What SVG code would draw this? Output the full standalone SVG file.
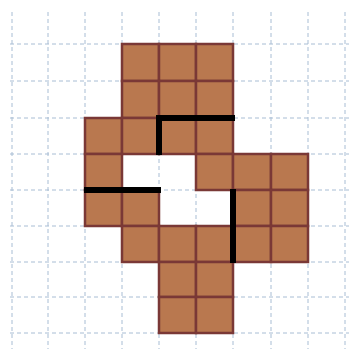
<svg xmlns="http://www.w3.org/2000/svg" width="349" height="349" viewBox="0 0 349 349">
<style>
.g{stroke:#a8bdd4;stroke-width:1;stroke-dasharray:4 3;fill:none}
.c{fill:#b9784f;stroke:#7a3836;stroke-width:2.5}
.k{stroke:#000;stroke-width:6;fill:none;stroke-linecap:square}
</style>
<rect width="349" height="349" fill="#fff"/>
<g id="grid">
<path class="g" d="M12 12V349M48 12V349M85 12V349M122 12V349M159 12V349M196 12V349M233 12V349M271 12V349M308 12V349M345 12V349"/>
<path class="g" d="M10 44H349M10 81H349M10 118H349M10 154H349M10 190H349M10 226H349M10 262H349M10 297H349M10 333H349"/>
</g>
<g id="cells">
<rect class="c" x="122" y="44" width="37" height="37"/>
<rect class="c" x="159" y="44" width="37" height="37"/>
<rect class="c" x="196" y="44" width="37" height="37"/>
<rect class="c" x="122" y="81" width="37" height="37"/>
<rect class="c" x="159" y="81" width="37" height="37"/>
<rect class="c" x="196" y="81" width="37" height="37"/>
<rect class="c" x="85" y="118" width="37" height="36"/>
<rect class="c" x="122" y="118" width="37" height="36"/>
<rect class="c" x="159" y="118" width="37" height="36"/>
<rect class="c" x="196" y="118" width="37" height="36"/>
<rect class="c" x="85" y="154" width="37" height="36"/>
<rect class="c" x="196" y="154" width="37" height="36"/>
<rect class="c" x="233" y="154" width="38" height="36"/>
<rect class="c" x="271" y="154" width="37" height="36"/>
<rect class="c" x="85" y="190" width="37" height="36"/>
<rect class="c" x="122" y="190" width="37" height="36"/>
<rect class="c" x="233" y="190" width="38" height="36"/>
<rect class="c" x="271" y="190" width="37" height="36"/>
<rect class="c" x="122" y="226" width="37" height="36"/>
<rect class="c" x="159" y="226" width="37" height="36"/>
<rect class="c" x="196" y="226" width="37" height="36"/>
<rect class="c" x="233" y="226" width="38" height="36"/>
<rect class="c" x="271" y="226" width="37" height="36"/>
<rect class="c" x="159" y="262" width="37" height="35"/>
<rect class="c" x="196" y="262" width="37" height="35"/>
<rect class="c" x="159" y="297" width="37" height="36"/>
<rect class="c" x="196" y="297" width="37" height="36"/>
</g>
<g id="cuts">
<path class="k" d="M232 118H159V152"/>
<path class="k" d="M87 190H158"/>
<path class="k" d="M233 192V260"/>
</g>
</svg>
